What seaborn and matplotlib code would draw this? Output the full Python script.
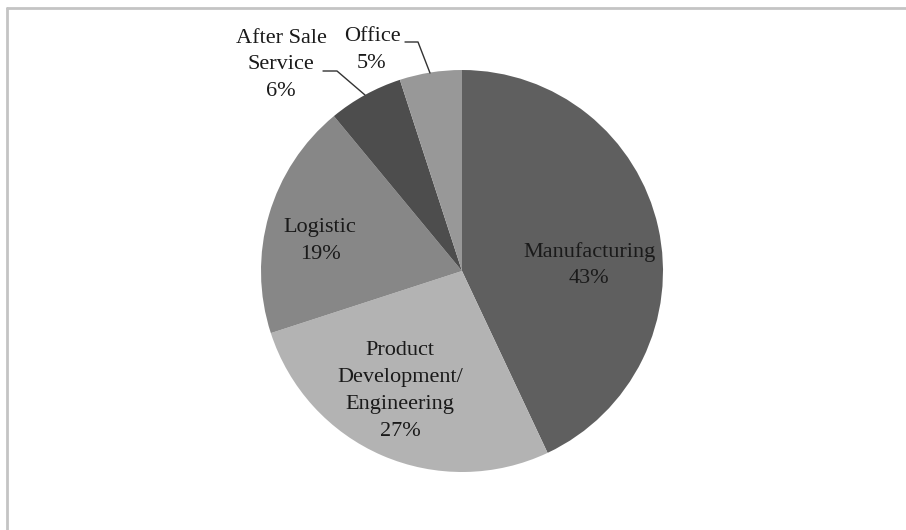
import matplotlib
matplotlib.use("Agg")
import matplotlib.pyplot as plt
from matplotlib.lines import Line2D
import seaborn as sns

# Share of cost by function (percent), clockwise from 12 o'clock
categories = ["Manufacturing", "Product\nDevelopment/\nEngineering", "Logistic",
              "After Sale\nService", "Office"]
shares = [43, 27, 19, 6, 5]
slice_colors = ["#5f5f5f", "#b3b3b3", "#878787", "#4d4d4d", "#989898"]

sns.set_theme(style="white")
plt.rcParams["font.family"] = ["Liberation Serif", "DejaVu Serif"]

W, H = 906, 530
fig = plt.figure(figsize=(W / 100, H / 100), dpi=100)
fig.patch.set_facecolor("white")

# pie centre and radius in pixels
cx, cy, r = 462, 271, 201
ax = fig.add_axes([(cx - r) / W, (H - cy - r) / H, 2 * r / W, 2 * r / H])

wedges, _ = ax.pie(shares, colors=slice_colors, startangle=90, counterclock=False,
                   radius=1.0, wedgeprops=dict(linewidth=0))
ax.set_xlim(-1, 1)
ax.set_ylim(-1, 1)
ax.set_aspect("equal")
ax.axis("off")

# label anchor points (axes data units, pie radius = 1)
label_xy = [(0.632, 0.03), (-0.308, -0.597), (-0.706, 0.149),
            (-0.90, 1.025), (-0.448, 1.10)]
for name, val, (x, y) in zip(categories, shares, label_xy):
    ax.text(x, y, f"{name}\n{val}%", ha="center", va="center", fontsize=16,
            color="#1a1a1a", linespacing=1.55, clip_on=False)

def px(xp, yp):
    return ((xp - cx) / r, (cy - yp) / r)

# leader lines for the two small outside labels
for pts in ([(323, 71), (337, 71), (365, 95)], [(405, 42), (418, 42), (430, 73)]):
    xs, ys = zip(*[px(*p) for p in pts])
    ax.plot(xs, ys, color="#333333", linewidth=1.0, clip_on=False)

# outer chart frame
frame_kw = dict(color="#c4c4c4", linewidth=2.0, transform=fig.transFigure)
fig.add_artist(Line2D([7 / W, 1.01], [1 - 8 / H, 1 - 8 / H], **frame_kw))
fig.add_artist(Line2D([7 / W, 7 / W], [1 - 8 / H, -0.01], **frame_kw))

fig.savefig("out.png", dpi=100, facecolor="white")
